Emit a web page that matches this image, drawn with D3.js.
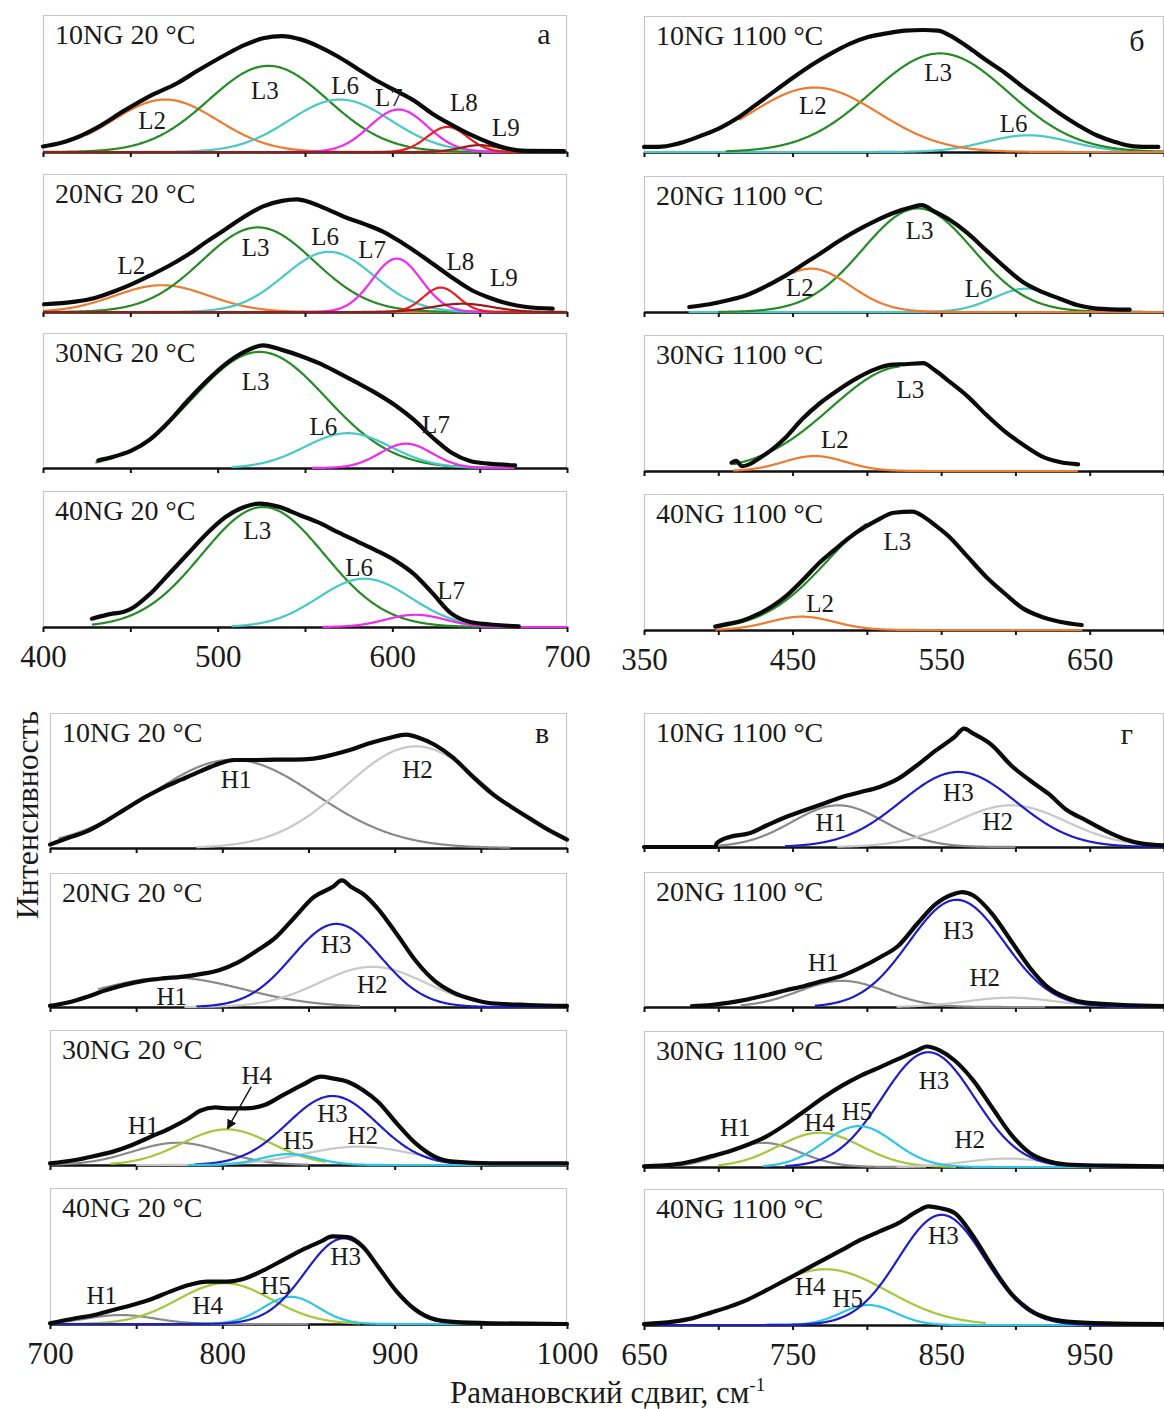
<!DOCTYPE html>
<html><head><meta charset="utf-8">
<script src="https://cdn.jsdelivr.net/npm/d3@7"></script>
<style>
body{margin:0;background:#fff}
svg{display:block}
text{font-family:"Liberation Serif","Times New Roman",serif;fill:#1a1a1a}
</style>
</head><body>
<svg id="c" width="1164" height="1409"></svg>
<script>
// ---------------- DATA ----------------
const titles20 = ["10NG 20 °C","20NG 20 °C","30NG 20 °C","40NG 20 °C"];
const titles1100 = ["10NG 1100 °C","20NG 1100 °C","30NG 1100 °C","40NG 1100 °C"];
const ticksA = [400,500,600,700];
const ticksB = [350,450,550,650];
const ticksV = [700,800,900,1000];
const ticksG = [650,750,850,950];
const yLabel = "Интенсивность";
const xLabel = "Рамановский сдвиг, см";
const xLabelSup = "-1";

// experimental spectra [shift, relative intensity]
const envA1 = [[400,0.04],[410,0.065],[418.3,0.10],[431.2,0.18],[446.3,0.30],[461.4,0.41],[476.5,0.50],[489.4,0.60],[504.5,0.71],[515.2,0.78],[526,0.83],[536.8,0.846],[547.5,0.822],[558.3,0.768],[569.1,0.695],[579.8,0.61],[590.6,0.524],[601.4,0.451],[612.1,0.378],[622.9,0.28],[633.7,0.2],[644.5,0.128],[655.2,0.07],[666,0.026],[676.8,0.008],[698.3,0.007]];
const envA2 = [[400.6,0.056],[418.3,0.075],[429.1,0.10],[439.8,0.145],[450.6,0.20],[461.4,0.265],[472.2,0.335],[482.9,0.415],[493.7,0.51],[504.5,0.60],[515.2,0.69],[526,0.765],[536.8,0.805],[545.4,0.816],[554,0.79],[562.6,0.745],[573.4,0.685],[584.1,0.637],[594.9,0.581],[605.7,0.5],[612.1,0.448],[622.9,0.351],[633.7,0.254],[644.5,0.165],[655.2,0.105],[666,0.061],[676.8,0.036],[691.8,0.024]];
const envA3 = [[431.7,0.057],[439.8,0.081],[450.6,0.128],[461.4,0.212],[472.2,0.344],[482.9,0.5],[493.7,0.645],[504.5,0.77],[515.2,0.86],[526,0.909],[536.8,0.875],[547.5,0.83],[558.3,0.775],[569.1,0.705],[579.8,0.632],[590.6,0.555],[601.4,0.467],[612.1,0.36],[622.9,0.228],[633.7,0.115],[644.5,0.052],[655.2,0.032],[670.3,0.02]];
const envA4 = [[428,0.061],[439.8,0.098],[446.3,0.112],[450.6,0.135],[461.4,0.245],[472.2,0.392],[482.9,0.539],[493.7,0.686],[504.5,0.809],[515.2,0.882],[523.8,0.907],[534.6,0.885],[547.5,0.82],[558.3,0.765],[569.1,0.695],[579.8,0.63],[590.6,0.564],[601.4,0.49],[612.1,0.392],[622.9,0.25],[633.7,0.1],[644.5,0.037],[655.2,0.02],[672.4,0.005]];
const envB1 = [[350,0.037],[361.9,0.04],[376.8,0.074],[389.2,0.123],[401.6,0.18],[414,0.258],[426.4,0.356],[438.8,0.455],[451.2,0.553],[463.6,0.645],[476,0.725],[488.4,0.795],[500.8,0.845],[513.2,0.872],[525.6,0.893],[538,0.897],[547.9,0.893],[555.4,0.86],[567.8,0.774],[580.2,0.676],[592.6,0.585],[605,0.479],[617.4,0.381],[629.8,0.283],[642.2,0.197],[654.6,0.123],[667,0.074],[679.4,0.042],[696.2,0.037]];
const envB2 = [[380.5,0.037],[394.1,0.057],[406.5,0.086],[418.9,0.123],[431.3,0.184],[443.8,0.258],[456.2,0.344],[468.6,0.43],[481,0.52],[493.4,0.6],[505.8,0.67],[518.2,0.73],[530.6,0.772],[536.8,0.786],[545.4,0.74],[555.4,0.68],[567.8,0.58],[580.2,0.455],[592.6,0.332],[605,0.22],[617.4,0.15],[629.8,0.098],[642.2,0.049],[654.6,0.025],[676.9,0.017]];
const envB3 = [[409,0.06],[412,0.075],[416,0.035],[420,0.045],[426.4,0.085],[436.3,0.159],[446.2,0.256],[456.2,0.378],[468.6,0.5],[481,0.598],[493.4,0.683],[505.8,0.749],[515.7,0.78],[525.6,0.785],[538,0.793],[545.4,0.744],[555.4,0.659],[567.8,0.549],[580.2,0.415],[592.6,0.293],[605,0.195],[617.4,0.11],[629.8,0.066],[642.2,0.049]];
const envB4 = [[397.9,0.025],[406.5,0.045],[416.5,0.07],[426.4,0.115],[436.3,0.175],[446.2,0.255],[456.2,0.36],[468.6,0.5],[481,0.615],[493.4,0.72],[505.8,0.8],[518.2,0.862],[530.6,0.87],[538,0.835],[545.4,0.775],[555.4,0.686],[567.8,0.539],[580.2,0.392],[592.6,0.27],[605,0.159],[617.4,0.098],[629.8,0.061],[644.6,0.037]];
const envV1 = [[700,0.025],[710.3,0.074],[721.3,0.123],[732.3,0.198],[743.2,0.284],[754.2,0.37],[765.2,0.444],[776.1,0.506],[787.1,0.568],[798.1,0.625],[806.9,0.652],[820,0.652],[831,0.654],[842,0.654],[853,0.662],[863.9,0.691],[874.9,0.73],[885.9,0.778],[896.8,0.815],[906.7,0.84],[914.4,0.815],[923.2,0.765],[934.1,0.667],[945.1,0.531],[956.1,0.407],[967.1,0.309],[978,0.222],[989,0.136],[1000,0.062]];
const envV2 = [[700,0.008],[710.3,0.033],[721.3,0.075],[732.3,0.125],[743.2,0.165],[754.2,0.195],[765.2,0.213],[776.1,0.225],[787.1,0.245],[798.1,0.275],[809.1,0.333],[820,0.42],[831,0.52],[842,0.67],[853,0.82],[863.9,0.895],[869.4,0.945],[874.9,0.895],[881.5,0.845],[890.3,0.733],[901.2,0.545],[912.2,0.345],[923.2,0.195],[934.1,0.108],[945.1,0.058],[956.1,0.028],[978,0.015],[1000,0.008]];
const envV3 = [[700,0.012],[714.7,0.037],[725.7,0.067],[736.6,0.099],[747.6,0.148],[758.6,0.21],[769.6,0.272],[780.5,0.346],[787.1,0.402],[795.9,0.427],[802.5,0.42],[813.5,0.42],[824.4,0.444],[835.4,0.519],[846.4,0.593],[857.3,0.654],[863.9,0.642],[872.7,0.617],[881.5,0.556],[890.3,0.469],[901.2,0.309],[912.2,0.16],[923.2,0.062],[934.1,0.025],[956.1,0.012],[1000,0.012]];
const envV4 = [[700,0.005],[714.7,0.042],[725.7,0.066],[736.6,0.103],[747.6,0.14],[758.6,0.182],[769.6,0.238],[780.5,0.287],[791.5,0.312],[802.5,0.312],[813.5,0.337],[824.4,0.398],[835.4,0.472],[846.4,0.545],[857.3,0.607],[863.9,0.644],[872.7,0.639],[881.5,0.57],[890.3,0.423],[901.2,0.238],[912.2,0.103],[923.2,0.034],[934.1,0.015],[956.1,0.005],[1000,0]];
const envG1 = [[650,0],[698.2,0],[698.7,0.025],[707.6,0.075],[720.2,0.1],[732.8,0.162],[745.5,0.224],[758.1,0.274],[770.7,0.323],[783.3,0.373],[796,0.41],[808.6,0.448],[821.2,0.51],[833.8,0.61],[846.5,0.721],[859.1,0.821],[865.4,0.883],[871.7,0.846],[884.3,0.759],[897,0.61],[909.6,0.498],[922.2,0.398],[934.8,0.274],[947.5,0.199],[960.1,0.124],[972.7,0.062],[985.4,0.025],[1000,0.012]];
const envG2 = [[682.3,0.007],[695,0.015],[707.6,0.032],[720.2,0.057],[732.8,0.089],[745.5,0.124],[758.1,0.156],[770.7,0.194],[783.3,0.231],[796,0.293],[808.6,0.367],[821.2,0.454],[833.8,0.615],[846.5,0.764],[859.1,0.839],[864.1,0.851],[871.7,0.826],[884.3,0.69],[897,0.491],[909.6,0.293],[922.2,0.144],[934.8,0.069],[947.5,0.032],[972.7,0.015],[1000,0.007]];
const envG3 = [[650,0.005],[669.7,0.017],[682.3,0.042],[695,0.079],[707.6,0.116],[720.2,0.165],[732.8,0.227],[745.5,0.314],[758.1,0.412],[770.7,0.511],[783.3,0.598],[796,0.672],[808.6,0.733],[821.2,0.795],[833.8,0.857],[840.2,0.886],[849,0.857],[859.1,0.783],[871.7,0.635],[884.3,0.437],[897,0.24],[909.6,0.104],[922.2,0.042],[934.8,0.017],[960.1,0.01],[1000,0.005]];
const envG4 = [[650,0.007],[669.7,0.025],[682.3,0.049],[695,0.091],[707.6,0.135],[720.2,0.189],[732.8,0.258],[745.5,0.332],[758.1,0.405],[770.7,0.479],[783.3,0.553],[796,0.627],[808.6,0.688],[821.2,0.749],[833.8,0.835],[841.4,0.872],[849,0.86],[859.1,0.823],[871.7,0.651],[884.3,0.43],[897,0.233],[909.6,0.111],[922.2,0.049],[934.8,0.025],[960.1,0.012],[1000,0.007]];

// fitted bands: [name, centre, height, sigma, from, to]
const compA1 = [["L2",470,0.383,30,425,700],["L3",529,0.629,34,400,700],["L6",570,0.383,29,400,700],["L7",603.5,0.31,16.5,400,700],["L8",631.5,0.183,11.5,400,700],["L9",650,0.05,11,400,700]];
const compA2 = [["L2",468,0.194,27,400,700],["L3",523,0.613,32,400,700],["L6",563.7,0.436,25.6,400,700],["L7",602.5,0.387,14,400,700],["L8",627.7,0.177,10,400,700],["L9",640,0.06,17,400,700]];
const compA3 = [["L3",524,0.86,38,430,660],["L6",574.5,0.258,24.7,508,668],["L7",607.8,0.18,15,554,670]];
const compA4 = [["L3",526,0.882,35,428,672],["L6",584,0.355,26.5,508,672],["L7",613.2,0.09,17,560,700]];
const compB1 = [["L6",608.7,0.123,28.5,350,700],["L3",549.2,0.725,46,405,700],["L2",464.8,0.474,43,414,700]];
const compB2 = [["L6",607.4,0.172,22,380,700],["L3",534.3,0.762,37,400,690],["L2",462.4,0.319,26.4,450,700]];
const compB3 = [["L3",525,0.77,49,410,522],["L2",464.8,0.11,21,410,642]];
const compB4 = [["L3",518,0.85,44,398,500],["L2",456.2,0.098,22,398,645]];
const compV1 = [["H1",806,0.654,48,705,967],["H2",912.2,0.753,41,785,1000]];
const compV2 = [["H1",770,0.22,42,728,880],["H2",887,0.3,30.7,778,1000],["H3",866.1,0.62,25.6,785,1000]];
const compV3 = [["H1",774,0.165,26,700,850],["H2",879.3,0.136,32,750,1000],["H4",802.5,0.264,26,735,860],["H3",863.9,0.511,26,784,1000],["H5",838.7,0.081,16,780,1000]];
const compV4 = [["H1",741,0.066,20,700,850],["H4",801.4,0.3,27,700,880],["H5",839.8,0.2,16,700,1000],["H3",870.5,0.63,22.4,700,1000]];
const compG1 = [["H1",780.8,0.311,31,700,900],["H2",897,0.311,37.5,780,1000],["H3",861.6,0.56,38.6,745,1000]];
const compG2 = [["H1",783.3,0.194,29,715,920],["H2",897,0.069,30,820,1000],["H3",860.4,0.794,32,765,1000]];
const compG3 = [["H1",730.3,0.178,24.7,650,840],["H4",768.2,0.252,28,700,860],["H2",894.4,0.062,28,820,1000],["H3",841.4,0.844,31,745,1000],["H5",794.7,0.301,23.6,730,1000]];
const compG4 = [["H4",772,0.41,42,755,880],["H5",801,0.147,18.3,650,1000],["H3",850.3,0.81,29,650,1000]];

// band labels: [name, shift, relative intensity]
const labA1 = [["L2",462.5,0.232],["L3",527,0.451],["L6",573,0.488],["L7",598,0.398],["L8",641,0.366],["L9",665,0.183]];
const labA2 = [["L2",450.6,0.339],["L3",521.7,0.472],["L6",561.5,0.55],["L7",588.5,0.453],["L8",639,0.37],["L9",663.8,0.254]];
const labA3 = [["L3",521.7,0.639],["L6",560.5,0.312],["L7",625,0.327]];
const labA4 = [["L3",522.8,0.711],["L6",581,0.441],["L7",633.7,0.27]];
const labB1 = [["L2",463.6,0.344],["L3",547.9,0.59],["L6",598.8,0.209]];
const labB2 = [["L2",454.9,0.179],["L3",535.5,0.602],["L6",575.2,0.172]];
const labB3 = [["L3",529.3,0.598],["L2",478.5,0.232]];
const labB4 = [["L3",520.6,0.651],["L2",468.6,0.196]];
const labV1 = [["H1",808,0.506],["H2",913.3,0.58]];
const labV2 = [["H3",866.1,0.47],["H2",887,0.17],["H1",770.7,0.083]];
const labV3 = [["H1",754.2,0.296],["H4",820,0.667],["H3",863.9,0.383],["H5",844.2,0.185],["H2",881.5,0.222]];
const labV4 = [["H1",730,0.214],["H4",791.5,0.14],["H5",831,0.287],["H3",871.6,0.496]];
const labG1 = [["H1",775.8,0.187],["H3",861.6,0.41],["H2",888.1,0.194]];
const labG2 = [["H3",861.6,0.566],["H1",770.7,0.33],["H2",879.3,0.218]];
const labG3 = [["H1",711.4,0.294],["H4",768.2,0.326],["H5",793.4,0.412],["H3",845.2,0.64],["H2",869.2,0.202]];
const labG4 = [["H4",761.9,0.283],["H5",787.1,0.197],["H3",851.5,0.663]];
// arrow H4 in panel в/30NG: [fromShift, fromI, toShift, toI]
const arrowV3 = [816.8,0.58,803,0.27];

// ---------------- STYLE / LAYOUT ----------------
const colors = {L2:"#ee7b30",L3:"#258c25",L6:"#48c8c8",L7:"#ee2cee",L8:"#e81e1e",L9:"#9b1b1b",
  H1:"#8a8a8a",H2:"#c8c8c8",H3:"#1f1fc6",H4:"#a3c93a",H5:"#2ec6e8"};
const groups = [
  {letter:"а", letterPos:[544,33], domain:[400,700], range:[43,567], ticks:ticksA, titles:titles20,
   panels:[[15,152],[174,312],[333,468],[491,627]], env:[envA1,envA2,envA3,envA4], comp:[compA1,compA2,compA3,compA4], lab:[labA1,labA2,labA3,labA4]},
  {letter:"б", letterPos:[1137,40], domain:[350,700], range:[644,1164], ticks:ticksB, titles:titles1100,
   panels:[[16,152],[176,312],[335,471],[494,630]], env:[envB1,envB2,envB3,envB4], comp:[compB1,compB2,compB3,compB4], lab:[labB1,labB2,labB3,labB4]},
  {letter:"в", letterPos:[542,732], domain:[700,1000], range:[50,567], ticks:ticksV, titles:titles20,
   panels:[[713,848],[873,1007],[1030,1165],[1188,1324]], env:[envV1,envV2,envV3,envV4], comp:[compV1,compV2,compV3,compV4], lab:[labV1,labV2,labV3,labV4]},
  {letter:"г", letterPos:[1127,733], domain:[650,1000], range:[644,1164], ticks:ticksG, titles:titles1100,
   panels:[[713,847],[872,1007],[1031,1167],[1189,1325]], env:[envG1,envG2,envG3,envG4], comp:[compG1,compG2,compG3,compG4], lab:[labG1,labG2,labG3,labG4]}
];

const svg = d3.select("#c");
svg.append("defs").append("marker").attr("id","ah").attr("viewBox","0 0 10 10")
  .attr("refX",9).attr("refY",5).attr("markerWidth",7).attr("markerHeight",7).attr("orient","auto")
  .append("path").attr("d","M0,0 L10,5 L0,10 z").attr("fill","#111");

groups.forEach((g, gi) => {
  const x = d3.scaleLinear().domain(g.domain).range(g.range);
  g.panels.forEach(([top, bottom], pi) => {
    const y = d3.scaleLinear().domain([0,1]).range([bottom, top]);
    const p = svg.append("g");
    // frame
    p.append("path")
      .attr("d", `M${g.range[0]+0.5},${bottom} V${top+0.5} H${g.range[1]-0.5} V${bottom}`)
      .attr("fill","none").attr("stroke","#c6c6c6").attr("stroke-width",1.2);
    // axis
    const isLast = pi === 3;
    const ax = d3.axisBottom(x)
      .tickValues(d3.range(g.domain[0], g.domain[1]+1, 50))
      .tickSize(5).tickSizeOuter(0).tickPadding(13)
      .tickFormat(v => (isLast && g.ticks.includes(v)) ? String(v) : "");
    const axg = p.append("g").attr("transform",`translate(0,${bottom})`).call(ax);
    axg.select(".domain").attr("stroke","#111").attr("stroke-width",2.4);
    axg.selectAll(".tick line").attr("stroke","#111").attr("stroke-width",2);
    axg.selectAll(".tick text").attr("font-size",31).attr("fill","#1a1a1a")
      .attr("font-family",'"Liberation Serif","Times New Roman",serif');
    // components
    const line = d3.line().x(d => x(d[0])).y(d => y(d[1]));
    g.comp[pi].forEach(([name, c, h, s, from, to]) => {
      const pts = d3.range(from, to + 0.001, 0.5).map(v => [v, h * Math.exp(-0.5 * ((v - c) / s) ** 2)]);
      p.append("path").attr("d", line(pts)).attr("fill","none")
        .attr("stroke", colors[name]).attr("stroke-width", 2.2).attr("stroke-linejoin","round");
    });
    // experimental envelope
    const envLine = d3.line().x(d => x(d[0])).y(d => y(d[1])).curve(d3.curveMonotoneX);
    p.append("path").attr("d", envLine(g.env[pi])).attr("fill","none")
      .attr("stroke","#0a0a0a").attr("stroke-width",4.2).attr("stroke-linejoin","round").attr("stroke-linecap","round");
    // band labels
    g.lab[pi].forEach(([name, lx, ly]) => {
      p.append("text").attr("x", x(lx)).attr("y", y(ly)).attr("dy","0.35em")
        .attr("text-anchor","middle").attr("font-size",25).text(name);
    });
    // title
    p.append("text").attr("x", g.range[0] + 12).attr("y", top + 29)
      .attr("font-size",28).text(g.titles[pi]);
    if (gi === 2 && pi === 2) {
      p.append("line").attr("x1", x(arrowV3[0])).attr("y1", y(arrowV3[1]))
        .attr("x2", x(arrowV3[2])).attr("y2", y(arrowV3[3]))
        .attr("stroke","#111").attr("stroke-width",1.4).attr("marker-end","url(#ah)");
    }
  });
  svg.append("text").attr("x", g.letterPos[0]).attr("y", g.letterPos[1]).attr("dy","0.35em")
    .attr("text-anchor","middle").attr("font-size",30).text(g.letter);
});

// axis titles
svg.append("text").attr("transform","translate(38,815) rotate(-90)")
  .attr("text-anchor","middle").attr("font-size",32).text(yLabel);
const xt = svg.append("text").attr("x",450).attr("y",1403).attr("font-size",31);
xt.append("tspan").text(xLabel);
xt.append("tspan").attr("dy",-12).attr("font-size",19).text(xLabelSup);
</script>
</body></html>
